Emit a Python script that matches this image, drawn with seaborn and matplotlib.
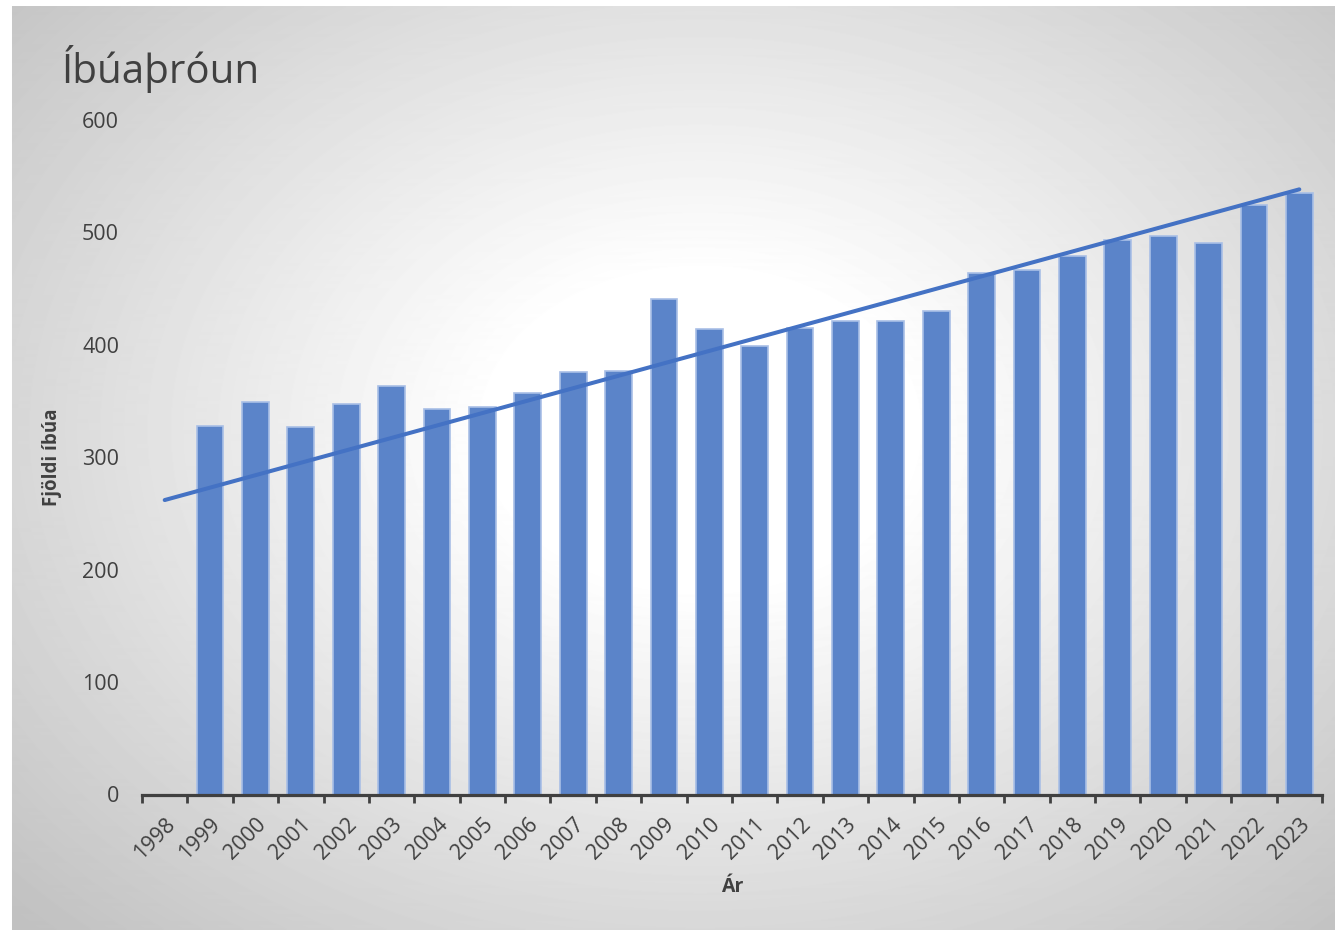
import numpy as np
import pandas as pd
import matplotlib
matplotlib.use("Agg")
import matplotlib.pyplot as plt
import seaborn as sns

# Population per year, 1998 has no bar
years = ['1998', '1999', '2000', '2001', '2002', '2003', '2004', '2005', '2006',
         '2007', '2008', '2009', '2010', '2011', '2012', '2013', '2014', '2015',
         '2016', '2017', '2018', '2019', '2020', '2021', '2022', '2023']
population = [0, 328, 349, 327, 347, 363, 343, 345, 357,
              376, 377, 441, 414, 399, 415, 421, 421, 430,
              464, 467, 479, 493, 497, 491, 524, 535]

title = 'Íbúaþróun'
ylabel = 'Fjöldi íbúa'
xlabel = 'Ár'
yticks = [0, 100, 200, 300, 400, 500, 600]

bar_color = '#5B84C9'
trend_color = '#4472C4'
text_color = '#404040'

sns.set_theme(style="white")
plt.rcParams['font.family'] = ['Open Sans', 'DejaVu Sans']

W, H = 1335, 930
fig = plt.figure(figsize=(W / 100, H / 100), dpi=100)

# radial grey background like the Excel chart area
yy, xx = np.mgrid[0:H, 0:W]
dx = (xx - 700) / 700
dy = (yy - 430) / 520
t = np.sqrt(dx ** 2 + dy ** 2)
grey = 255 - 62 * np.clip((t - 0.3) / (1.35 - 0.3), 0, 1)
grey[(xx < 12) | (yy < 7)] = 255
bg = fig.add_axes([0, 0, 1, 1], zorder=0)
bg.imshow(grey / 255, cmap='gray', vmin=0, vmax=1, extent=[0, W, H, 0], aspect='auto')
bg.axis('off')

ax = fig.add_axes([142 / W, 1 - 794.5 / H, 1180 / W, 674.5 / H], zorder=1)
ax.patch.set_alpha(0)

df = pd.DataFrame({'year': years, 'population': population})
bars = df[df['population'] > 0]
sns.barplot(data=bars, x='year', y='population', order=years, color=bar_color,
            width=0.59, edgecolor='#A9BFE6', linewidth=1.2, saturation=1, ax=ax)

# linear trend over all categories (Excel counts the empty 1998 as 0)
pos = np.arange(len(years))
coef = np.polyfit(pos, population, 1)
ax.plot(pos, np.polyval(coef, pos), color=trend_color, lw=2.9, solid_capstyle='round', zorder=3)

ax.set_xlim(-0.5, len(years) - 0.5)
ax.set_ylim(0, 600)
ax.set_yticks(yticks)
ax.set_yticklabels([str(v) for v in yticks])

ax.set_xticks(pos)
ax.set_xticklabels(years, rotation=45, ha='right', va='top', rotation_mode='anchor')
ax.set_xticks(np.arange(-0.5, len(years), 1), minor=True)
ax.tick_params(axis='x', which='major', length=0, pad=14, labelsize=15.5, labelcolor=text_color)
ax.tick_params(axis='x', which='minor', length=6, width=2, color=text_color, direction='out', bottom=True)
ax.tick_params(axis='y', length=0, pad=16.5, labelsize=15.5, labelcolor=text_color)

for s in ['top', 'right', 'left']:
    ax.spines[s].set_visible(False)
ax.spines['bottom'].set_color(text_color)
ax.spines['bottom'].set_linewidth(2.3)

ax.set_ylabel(ylabel, fontsize=13.5, fontweight='bold', color=text_color)
ax.yaxis.set_label_coords(-0.068, 0.5)
ax.set_xlabel(xlabel, fontsize=14, fontweight='bold', color=text_color)
ax.xaxis.label.set_va('center')
ax.xaxis.set_label_coords(0.5, -0.137)

fig.text(62 / W, 1 - 83 / H, title, fontsize=29, color=text_color, ha='left', va='baseline')

fig.savefig('out.png', dpi=100)
